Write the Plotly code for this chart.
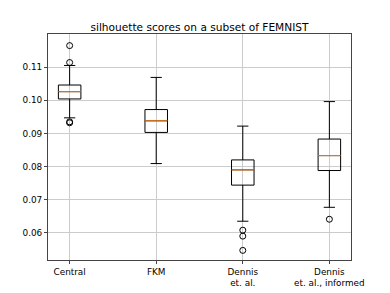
import plotly.graph_objects as go

categories = ["Central", "FKM", "Dennis<br>et. al.", "Dennis<br>et. al., informed"]
positions = [1, 2, 3, 4]
q1 = [0.1004, 0.0903, 0.0744, 0.0788]
median = [0.1026, 0.0938, 0.0790, 0.0833]
q3 = [0.1046, 0.0972, 0.0820, 0.0883]
lower_whisker = [0.0947, 0.0809, 0.0635, 0.0677]
upper_whisker = [0.1105, 0.1069, 0.0922, 0.0996]
outliers = [
    [0.1165, 0.1114, 0.0935, 0.0932],
    [],
    [0.0608, 0.0590, 0.0547],
    [0.0641],
]

BOX_W = 0.26

fig = go.Figure()
fig.add_trace(go.Box(
    x=positions, q1=q1, median=median, q3=q3,
    lowerfence=lower_whisker, upperfence=upper_whisker,
    width=BOX_W, whiskerwidth=0.5,
    fillcolor="rgba(0,0,0,0)",
    line=dict(color="black", width=1),
    boxpoints=False, showlegend=False, hoverinfo="skip",
))
# median lines in orange
for p, m in zip(positions, median):
    fig.add_trace(go.Scatter(
        x=[p - BOX_W / 2, p + BOX_W / 2], y=[m, m], mode="lines",
        line=dict(color="#ff7f0e", width=1), showlegend=False, hoverinfo="skip",
    ))
# outliers
ox, oy = [], []
for p, vals in zip(positions, outliers):
    for v in vals:
        ox.append(p)
        oy.append(v)
fig.add_trace(go.Scatter(
    x=ox, y=oy, mode="markers",
    marker=dict(symbol="circle-open", size=6, color="black", line=dict(width=1)),
    showlegend=False, hoverinfo="skip",
))

fig.update_layout(
    width=390, height=293,
    margin=dict(l=48, r=39, t=34, b=33),
    paper_bgcolor="white", plot_bgcolor="white",
    font=dict(family="DejaVu Sans", size=8.85, color="black"),
    title=dict(text="silhouette scores on a subset of FEMNIST", x=0.5115, xanchor="center",
               y=0.894, yanchor="bottom", font=dict(size=10.6), automargin=False),
)
fig.update_xaxes(
    range=[0.75, 4.25], tickvals=positions, ticktext=categories,
    showgrid=True, gridcolor="#cccccc", gridwidth=1,
    showline=True, linecolor="#444444", linewidth=1, mirror=True,
    ticks="outside", ticklen=3, tickcolor="#444444", zeroline=False,
    automargin=False,
)
fig.update_yaxes(
    range=[0.0518, 0.1200], tickvals=[0.06, 0.07, 0.08, 0.09, 0.10, 0.11],
    ticktext=["0.06", "0.07", "0.08", "0.09", "0.10", "0.11"],
    showgrid=True, gridcolor="#cccccc", gridwidth=1,
    showline=True, linecolor="#444444", linewidth=1, mirror=True,
    ticks="outside", ticklen=3, tickcolor="#444444", zeroline=False,
    automargin=False,
)

fig.write_html("out.html", config={"displayModeBar": False},
               post_script="document.body.style.margin='0';")
